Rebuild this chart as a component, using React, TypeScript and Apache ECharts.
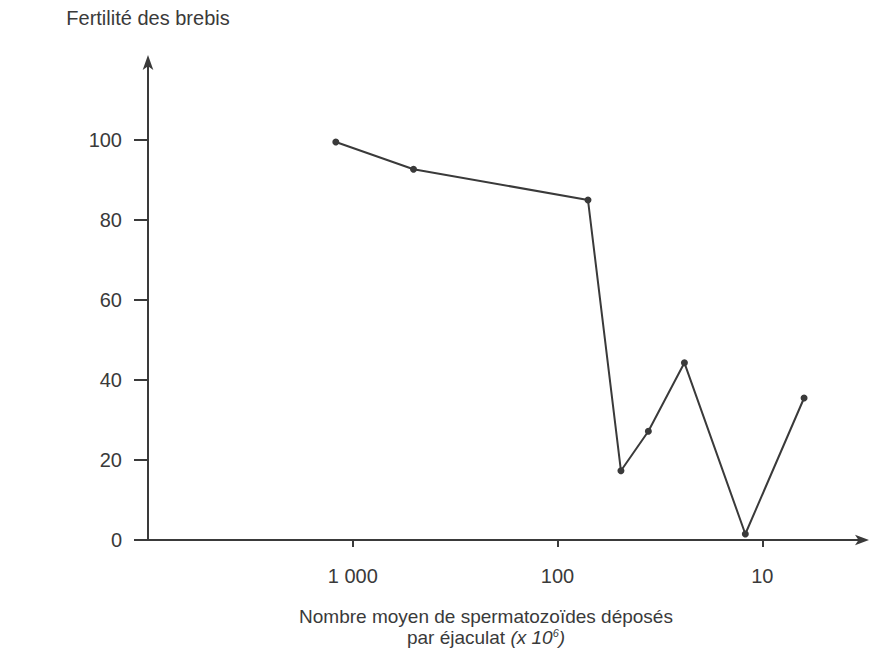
import React, { useEffect, useRef } from "react";
import * as echarts from "echarts";

const spermCounts = [1210, 505, 71, 49, 36, 24, 12.1, 6.25];
const fertility = [99.5, 92.7, 85, 17.3, 27.2, 44.3, 1.5, 35.5];
const xTickValues = [1000, 100, 10];
const yTickValues = [0, 20, 40, 60, 80, 100];
const X_AXIS_MAX = 10000;

const FONT = "Liberation Sans, Arial, sans-serif";
const INK = "#3a3a3a";
const FS = 20;
const FS_NAME = 19;

export default function App() {
  const ref = useRef<HTMLDivElement>(null);
  useEffect(() => {
    if (!ref.current) return;
    const chart = echarts.init(ref.current, undefined, { renderer: "svg" });
    const textGraphics = [
      {
        type: "text",
        x: 486,
        y: 607,
        style: {
          text: "Nombre moyen de spermatozoïdes déposés",
          fill: INK,
          font: `${FS_NAME}px ${FONT}`,
          textAlign: "center",
        },
      },
      {
        type: "text",
        x: 486,
        y: 627,
        style: {
          text: "{n|par éjaculat }{i|(x 10}{s|6}{i|)}",
          textAlign: "center",
          rich: {
            n: { fill: INK, font: `${FS_NAME}px ${FONT}` },
            i: { fill: INK, font: `italic ${FS_NAME}px ${FONT}` },
            s: { fill: INK, font: `italic 11px ${FONT}`, verticalAlign: "top", padding: [0, 0, 9, 0] },
          },
        },
      },
    ];
    chart.setOption({
      animation: false,
      backgroundColor: "#ffffff",
      grid: { left: 148, right: 4, top: 64, bottom: 113 },
      xAxis: {
        type: "log",
        logBase: 10,
        inverse: true,
        min: 3.15,
        max: X_AXIS_MAX,
        splitLine: { show: false },
        axisLine: {
          show: true,
          lineStyle: { color: INK, width: 2 },
          symbol: ["none", "arrow"],
          symbolSize: [8, 14],
          symbolOffset: [0, 4],
        },
        axisTick: {
          show: true,
          length: 7,
          customValues: xTickValues,
          lineStyle: { color: INK, width: 2 },
        },
        axisLabel: {
          customValues: xTickValues,
          margin: 26,
          color: INK,
          fontSize: FS,
          fontFamily: FONT,
          formatter: (v: number) => (v === 1000 ? "1 000" : String(v)),
        },
      },
      yAxis: {
        type: "value",
        min: 0,
        max: 119,
        interval: 20,
        splitLine: { show: false },
        name: "Fertilité des brebis",
        nameLocation: "end",
        nameGap: 36,
        nameTextStyle: { color: INK, fontSize: FS, fontFamily: FONT },
        axisLine: {
          show: true,
          lineStyle: { color: INK, width: 2 },
          symbol: ["none", "arrow"],
          symbolSize: [8, 15],
          symbolOffset: [0, 9],
        },
        axisTick: { show: false },
        axisLabel: {
          customValues: yTickValues,
          margin: 26,
          color: INK,
          fontSize: FS,
          fontFamily: FONT,
        },
      },
      graphic: textGraphics,
      series: [
        {
          type: "line",
          data: spermCounts.map((x, i) => [x, fertility[i]]),
          symbol: "circle",
          symbolSize: 7,
          lineStyle: { color: INK, width: 2 },
          itemStyle: { color: INK },
          z: 3,
        },
      ],
    });
    const tickGraphics = yTickValues.map((v) => {
      const p = chart.convertToPixel({ gridIndex: 0 }, [X_AXIS_MAX, v]) as number[];
      return {
        type: "line",
        silent: true,
        z: 100,
        shape: { x1: p[0] - 14, y1: p[1], x2: p[0], y2: p[1] },
        style: { stroke: INK, lineWidth: 2 },
      };
    });
    chart.setOption({ graphic: [...textGraphics, ...tickGraphics] });
    return () => chart.dispose();
  }, []);
  return (
    <div
      ref={ref}
      style={{ position: "fixed", left: 0, top: 0, width: 869, height: 653, background: "#fff" }}
    />
  );
}
